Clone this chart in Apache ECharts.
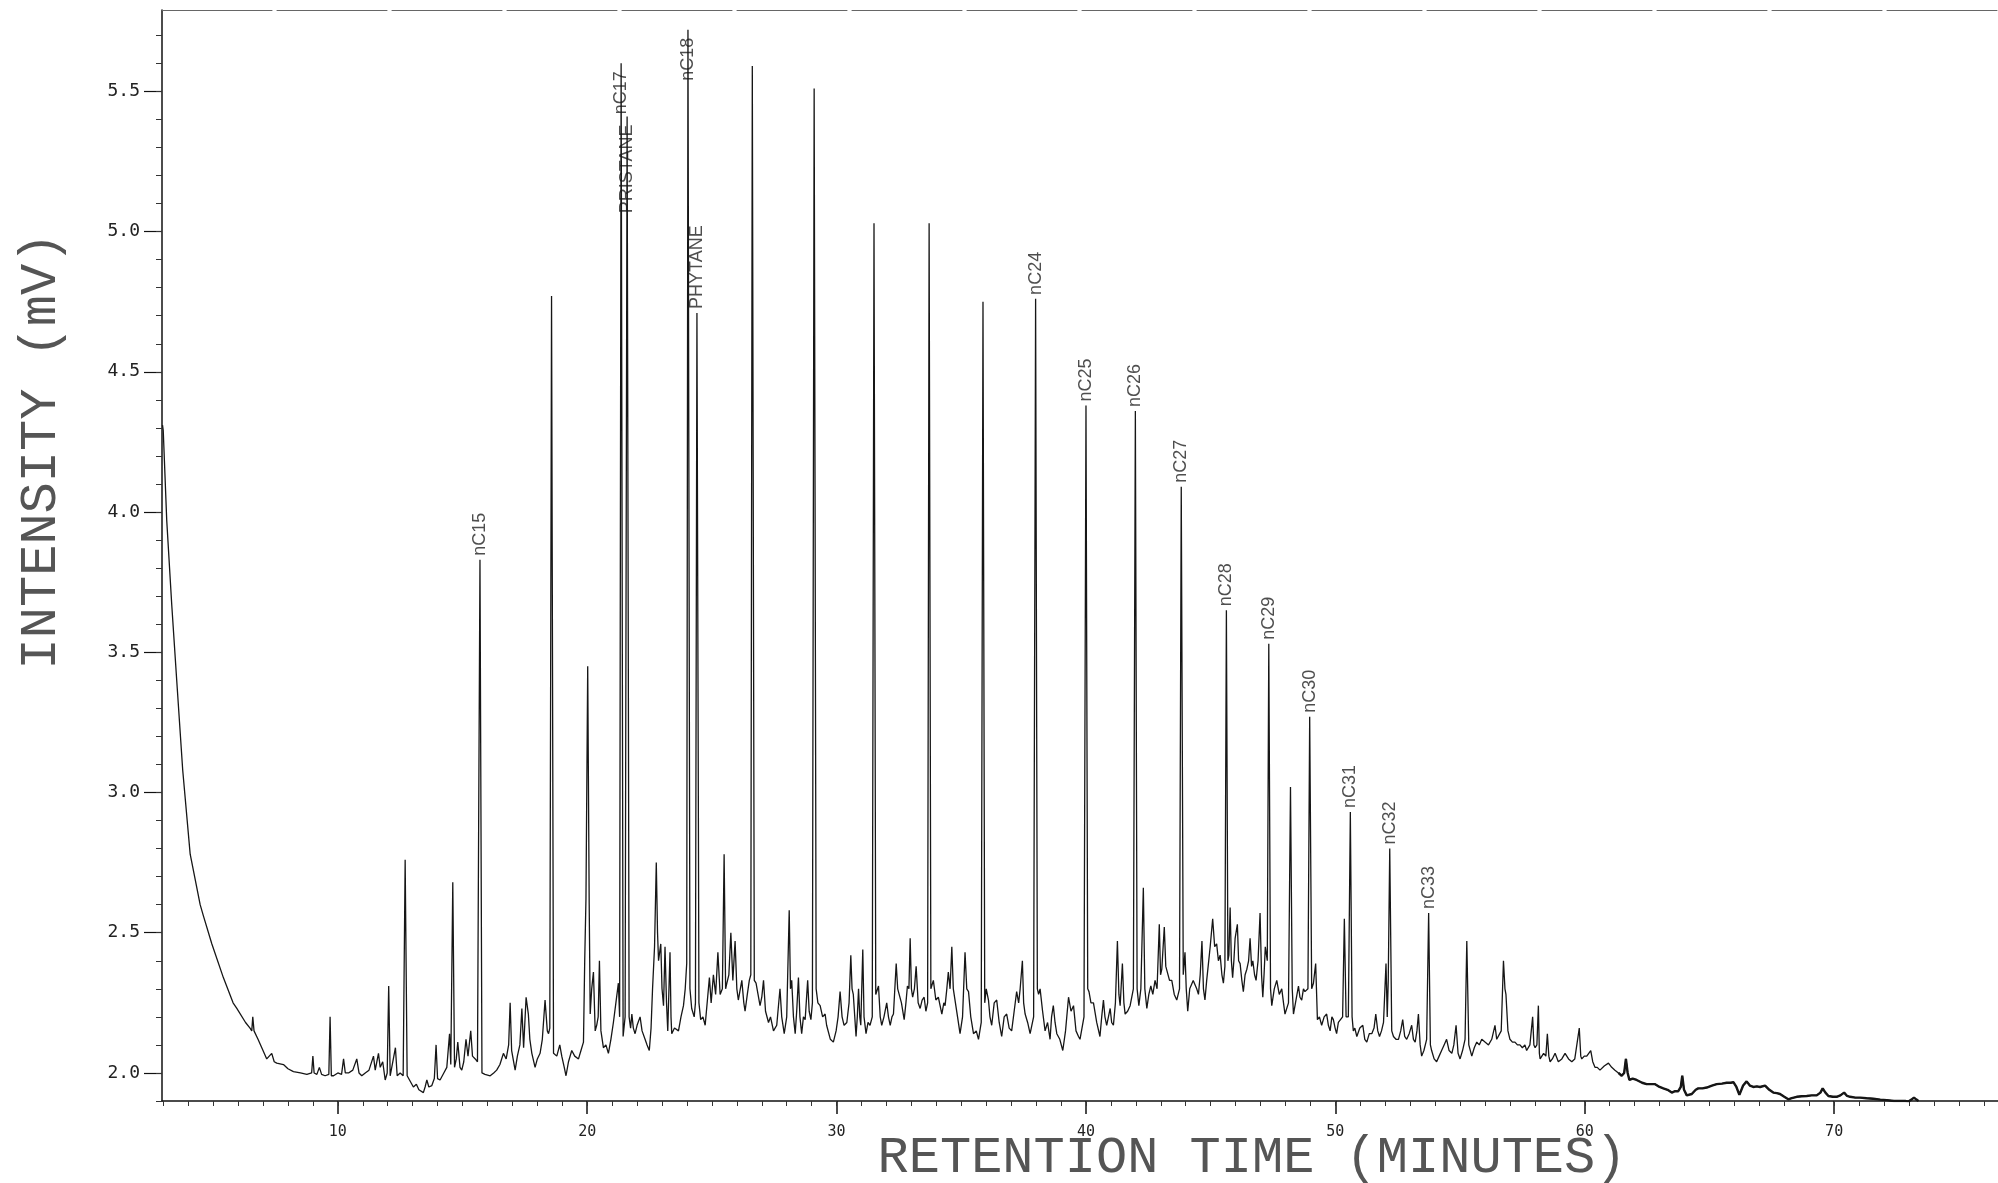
<!DOCTYPE html>
<html>
<head>
<meta charset="utf-8">
<title>Chromatogram</title>
<script src="https://cdn.jsdelivr.net/npm/echarts@6/dist/echarts.min.js"></script>
<style>
  html, body { margin: 0; padding: 0; background: #fff; }
  #chart { width: 1998px; height: 1183px; }
</style>
</head>
<body>
<div id="chart"></div>
<script>
// retention time (min) / intensity (mV)
const trace03to20 = [
  [2.97, 4.31], [3.0, 4.29], [3.14, 3.97], [3.34, 3.67], [3.54, 3.40], [3.78, 3.08], [4.08, 2.78],
  [4.28, 2.69], [4.48, 2.60], [4.61, 2.56], [4.95, 2.46], [5.41, 2.34], [5.8, 2.25], [5.95, 2.23],
  [6.3, 2.18], [6.48, 2.16], [6.55, 2.15], [6.59, 2.2], [6.64, 2.15], [6.8, 2.12], [7.0, 2.08],
  [7.15, 2.05], [7.35, 2.07], [7.45, 2.04], [7.55, 2.035], [7.82, 2.03], [8.0, 2.015], [8.22, 2.005],
  [8.5, 2.0], [8.76, 1.995], [8.95, 2.0], [9.0, 2.06], [9.05, 2.0], [9.16, 1.995], [9.26, 2.02],
  [9.35, 1.995], [9.49, 1.99], [9.64, 1.995], [9.69, 2.2], [9.74, 1.99], [9.83, 1.99], [10.0, 2.0],
  [10.15, 1.995], [10.23, 2.05], [10.3, 2.0], [10.43, 2.0], [10.6, 2.01], [10.76, 2.05], [10.85, 2.0],
  [10.96, 1.99], [11.1, 2.0], [11.25, 2.01], [11.43, 2.06], [11.5, 2.01], [11.63, 2.07], [11.7, 2.02],
  [11.8, 2.04], [11.9, 1.975], [11.98, 2.0], [12.04, 2.31], [12.1, 1.99], [12.16, 1.99], [12.31, 2.09],
  [12.38, 1.99], [12.5, 2.0], [12.62, 1.99], [12.78, 1.99], [12.83, 1.99], [13.03, 1.95], [13.15, 1.96],
  [13.25, 1.94], [13.43, 1.93], [13.5, 1.95], [13.57, 1.975], [13.65, 1.95], [13.77, 1.955], [13.87, 1.98],
  [13.94, 2.1], [14.0, 1.98], [14.1, 1.975], [14.25, 2.0], [14.37, 2.02], [14.48, 2.14], [14.53, 2.03],
  [14.68, 2.02], [14.75, 2.05], [14.81, 2.11], [14.9, 2.02], [14.97, 2.01], [15.05, 2.04], [15.14, 2.12],
  [15.22, 2.06], [15.33, 2.15], [15.4, 2.06], [15.51, 2.05], [15.6, 2.04], [15.78, 2.0], [15.9, 1.995],
  [16.11, 1.99], [16.25, 2.0], [16.37, 2.01], [16.5, 2.03], [16.64, 2.07], [16.75, 2.05], [16.85, 2.1],
  [16.91, 2.25], [16.97, 2.08], [17.11, 2.01], [17.2, 2.06], [17.3, 2.1], [17.38, 2.23], [17.45, 2.09],
  [17.55, 2.27], [17.64, 2.21], [17.7, 2.12], [17.78, 2.07], [17.91, 2.02], [18.0, 2.05], [18.11, 2.07],
  [18.2, 2.12], [18.31, 2.26], [18.4, 2.15], [18.45, 2.14], [18.5, 2.16], [18.65, 2.07], [18.78, 2.06],
  [18.9, 2.1], [18.98, 2.06], [19.08, 2.02], [19.15, 1.99], [19.25, 2.04], [19.38, 2.08], [19.5, 2.06],
  [19.65, 2.05], [19.75, 2.08], [19.85, 2.11], [19.9, 2.4], [19.95, 2.62]
];
const trace20to40 = [
  [20.08, 2.6], [20.12, 2.21], [20.18, 2.3], [20.25, 2.36], [20.32, 2.15], [20.38, 2.17], [20.44, 2.2],
  [20.49, 2.4], [20.55, 2.15], [20.65, 2.09], [20.75, 2.1], [20.85, 2.07], [20.95, 2.12], [21.05, 2.18],
  [21.15, 2.25], [21.25, 2.32], [21.3, 2.2], [21.44, 2.13], [21.52, 2.2], [21.68, 2.2], [21.74, 2.16],
  [21.79, 2.21], [21.85, 2.16], [21.92, 2.14], [22.0, 2.17], [22.12, 2.2], [22.2, 2.15], [22.32, 2.12],
  [22.4, 2.1], [22.49, 2.08], [22.56, 2.16], [22.62, 2.3], [22.7, 2.45], [22.82, 2.5], [22.86, 2.4],
  [22.95, 2.46], [23.0, 2.3], [23.06, 2.24], [23.12, 2.45], [23.18, 2.25], [23.23, 2.15], [23.32, 2.43],
  [23.36, 2.2], [23.39, 2.14], [23.5, 2.16], [23.66, 2.15], [23.76, 2.2], [23.86, 2.24], [23.93, 2.3],
  [23.99, 2.39], [24.12, 2.3], [24.19, 2.23], [24.29, 2.2], [24.34, 2.25], [24.48, 2.25], [24.55, 2.19],
  [24.64, 2.2], [24.73, 2.17], [24.82, 2.26], [24.9, 2.34], [24.97, 2.25], [25.06, 2.35], [25.15, 2.28],
  [25.24, 2.43], [25.33, 2.28], [25.42, 2.3], [25.55, 2.3], [25.6, 2.32], [25.68, 2.35], [25.76, 2.5],
  [25.84, 2.33], [25.93, 2.47], [26.0, 2.3], [26.06, 2.26], [26.2, 2.33], [26.28, 2.25], [26.33, 2.22],
  [26.42, 2.28], [26.5, 2.33], [26.56, 2.35], [26.7, 2.33], [26.77, 2.32], [26.85, 2.28], [26.93, 2.24],
  [27.0, 2.27], [27.07, 2.33], [27.15, 2.22], [27.27, 2.18], [27.35, 2.2], [27.47, 2.15], [27.6, 2.17],
  [27.73, 2.3], [27.8, 2.2], [27.9, 2.14], [28.0, 2.2], [28.1, 2.58], [28.15, 2.3], [28.2, 2.33],
  [28.27, 2.2], [28.34, 2.14], [28.4, 2.22], [28.47, 2.34], [28.53, 2.2], [28.6, 2.14], [28.67, 2.2],
  [28.74, 2.19], [28.84, 2.33], [28.9, 2.22], [28.97, 2.19], [29.03, 2.25], [29.18, 2.3], [29.25, 2.25],
  [29.34, 2.24], [29.44, 2.2], [29.54, 2.21], [29.6, 2.17], [29.67, 2.17], [29.75, 2.12], [29.87, 2.11],
  [29.98, 2.15], [30.06, 2.2], [30.14, 2.29], [30.22, 2.2], [30.3, 2.17], [30.41, 2.18], [30.5, 2.25],
  [30.57, 2.42], [30.62, 2.3], [30.67, 2.28], [30.78, 2.13], [30.83, 2.2], [30.88, 2.3], [30.93, 2.2],
  [30.97, 2.17], [31.05, 2.44], [31.1, 2.2], [31.18, 2.14], [31.26, 2.18], [31.34, 2.17], [31.43, 2.2],
  [31.57, 2.28], [31.68, 2.31], [31.75, 2.2], [31.81, 2.17], [31.9, 2.2], [32.01, 2.25], [32.08, 2.2],
  [32.15, 2.17], [32.22, 2.2], [32.28, 2.21], [32.39, 2.39], [32.45, 2.3], [32.52, 2.3], [32.6, 2.25],
  [32.71, 2.19], [32.78, 2.25], [32.84, 2.31], [32.9, 2.3], [32.95, 2.48], [33.0, 2.3], [33.05, 2.27],
  [33.12, 2.3], [33.19, 2.38], [33.27, 2.25], [33.35, 2.23], [33.43, 2.26], [33.51, 2.27], [33.58, 2.22],
  [33.65, 2.25], [33.78, 2.3], [33.88, 2.33], [33.98, 2.26], [34.08, 2.27], [34.15, 2.24], [34.22, 2.21],
  [34.3, 2.25], [34.35, 2.24], [34.42, 2.3], [34.48, 2.36], [34.55, 2.3], [34.62, 2.45], [34.68, 2.3],
  [34.75, 2.3], [34.85, 2.2], [34.95, 2.14], [35.05, 2.2], [35.15, 2.43], [35.22, 2.3], [35.29, 2.29],
  [35.38, 2.2], [35.49, 2.14], [35.6, 2.15], [35.69, 2.12], [35.8, 2.18], [35.94, 2.25], [36.0, 2.3],
  [36.09, 2.26], [36.15, 2.2], [36.22, 2.17], [36.32, 2.25], [36.42, 2.26], [36.52, 2.18], [36.62, 2.13],
  [36.72, 2.2], [36.82, 2.21], [36.92, 2.16], [37.02, 2.15], [37.12, 2.22], [37.22, 2.29], [37.3, 2.25],
  [37.36, 2.3], [37.45, 2.4], [37.5, 2.25], [37.56, 2.21], [37.66, 2.18], [37.76, 2.14], [37.9, 2.2],
  [38.05, 2.3], [38.1, 2.28], [38.16, 2.3], [38.26, 2.22], [38.36, 2.15], [38.46, 2.18], [38.56, 2.12],
  [38.62, 2.2], [38.69, 2.24], [38.76, 2.18], [38.83, 2.14], [38.95, 2.12], [39.07, 2.08], [39.18, 2.15],
  [39.3, 2.27], [39.4, 2.22], [39.5, 2.24], [39.6, 2.15], [39.7, 2.13], [39.76, 2.12], [39.92, 2.2]
];
const trace40to58 = [
  [40.07, 2.3], [40.12, 2.29], [40.2, 2.25], [40.3, 2.25], [40.43, 2.18], [40.56, 2.13], [40.63, 2.2],
  [40.7, 2.26], [40.76, 2.2], [40.83, 2.17], [40.9, 2.2], [40.97, 2.23], [41.03, 2.18], [41.1, 2.17],
  [41.18, 2.25], [41.26, 2.47], [41.32, 2.28], [41.37, 2.24], [41.46, 2.39], [41.52, 2.25], [41.57, 2.21],
  [41.67, 2.22], [41.77, 2.24], [41.9, 2.3], [42.05, 2.3], [42.12, 2.24], [42.2, 2.3], [42.3, 2.66],
  [42.36, 2.3], [42.44, 2.23], [42.52, 2.28], [42.6, 2.31], [42.68, 2.28], [42.77, 2.33], [42.85, 2.3],
  [42.94, 2.53], [42.99, 2.35], [43.04, 2.37], [43.14, 2.52], [43.2, 2.38], [43.26, 2.38], [43.35, 2.33],
  [43.44, 2.33], [43.54, 2.28], [43.64, 2.26], [43.75, 2.3], [43.9, 2.35], [43.97, 2.43], [44.02, 2.3],
  [44.08, 2.22], [44.16, 2.3], [44.24, 2.3], [44.3, 2.33], [44.37, 2.33], [44.44, 2.3], [44.51, 2.28],
  [44.58, 2.35], [44.65, 2.47], [44.71, 2.3], [44.77, 2.26], [44.84, 2.33], [44.91, 2.39], [44.98, 2.45],
  [45.08, 2.55], [45.16, 2.45], [45.24, 2.46], [45.31, 2.4], [45.38, 2.42], [45.45, 2.35], [45.51, 2.32],
  [45.57, 2.38], [45.69, 2.4], [45.73, 2.42], [45.78, 2.59], [45.83, 2.4], [45.88, 2.34], [45.93, 2.4],
  [45.98, 2.48], [46.07, 2.53], [46.12, 2.4], [46.18, 2.39], [46.25, 2.33], [46.31, 2.29], [46.38, 2.35],
  [46.45, 2.37], [46.52, 2.4], [46.58, 2.48], [46.64, 2.38], [46.69, 2.4], [46.76, 2.35], [46.82, 2.33],
  [46.9, 2.4], [46.98, 2.57], [47.04, 2.35], [47.09, 2.27], [47.14, 2.35], [47.19, 2.45], [47.27, 2.4],
  [47.4, 2.3], [47.45, 2.24], [47.55, 2.3], [47.65, 2.33], [47.75, 2.28], [47.85, 2.3], [47.92, 2.25],
  [47.98, 2.21], [48.12, 2.25], [48.27, 2.3], [48.32, 2.21], [48.42, 2.26], [48.52, 2.31], [48.58, 2.27],
  [48.65, 2.26], [48.72, 2.3], [48.78, 2.29], [48.9, 2.3], [49.05, 2.3], [49.12, 2.32], [49.21, 2.39],
  [49.28, 2.19], [49.36, 2.2], [49.45, 2.17], [49.55, 2.2], [49.65, 2.21], [49.72, 2.17], [49.79, 2.15],
  [49.86, 2.2], [49.92, 2.19], [49.99, 2.16], [50.05, 2.14], [50.12, 2.18], [50.19, 2.18], [50.29, 2.2],
  [50.43, 2.2], [50.52, 2.2], [50.67, 2.2], [50.72, 2.15], [50.78, 2.16], [50.86, 2.13], [50.98, 2.16],
  [51.1, 2.17], [51.18, 2.12], [51.26, 2.11], [51.36, 2.14], [51.46, 2.14], [51.55, 2.16], [51.62, 2.21],
  [51.7, 2.15], [51.77, 2.13], [51.85, 2.15], [51.93, 2.18], [52.03, 2.39], [52.08, 2.2], [52.12, 2.33],
  [52.26, 2.15], [52.33, 2.13], [52.43, 2.12], [52.53, 2.12], [52.62, 2.15], [52.7, 2.19], [52.78, 2.13],
  [52.86, 2.12], [52.96, 2.14], [53.06, 2.17], [53.13, 2.12], [53.2, 2.11], [53.27, 2.15], [53.33, 2.21],
  [53.4, 2.1], [53.46, 2.06], [53.55, 2.08], [53.66, 2.12], [53.81, 2.1], [53.86, 2.08], [53.96, 2.05],
  [54.06, 2.04], [54.16, 2.06], [54.26, 2.08], [54.36, 2.1], [54.46, 2.12], [54.56, 2.08], [54.67, 2.07],
  [54.75, 2.1], [54.84, 2.17], [54.92, 2.07], [55.0, 2.05], [55.1, 2.08], [55.2, 2.12], [55.35, 2.1],
  [55.47, 2.06], [55.57, 2.09], [55.67, 2.11], [55.77, 2.1], [55.87, 2.12], [56.0, 2.11], [56.14, 2.1],
  [56.27, 2.12], [56.4, 2.17], [56.47, 2.12], [56.54, 2.12], [56.65, 2.15], [56.8, 2.3], [56.84, 2.28],
  [56.92, 2.15], [57.0, 2.12], [57.1, 2.11], [57.2, 2.11], [57.3, 2.1], [57.4, 2.1], [57.5, 2.09],
  [57.6, 2.1], [57.67, 2.08], [57.8, 2.1], [57.91, 2.2], [57.96, 2.1]
];
const trace58to74 = [
  [58.01, 2.09], [58.08, 2.1], [58.14, 2.24], [58.18, 2.07], [58.21, 2.05], [58.35, 2.07], [58.44, 2.06],
  [58.5, 2.14], [58.56, 2.06], [58.61, 2.04], [58.7, 2.05], [58.81, 2.07], [58.94, 2.04], [59.08, 2.05],
  [59.21, 2.07], [59.35, 2.05], [59.48, 2.04], [59.6, 2.05], [59.68, 2.05], [59.78, 2.16], [59.84, 2.06],
  [59.88, 2.05], [59.98, 2.06], [60.08, 2.06], [60.16, 2.06], [60.24, 2.08], [60.32, 2.04], [60.41, 2.02],
  [60.5, 2.02], [60.61, 2.01], [60.78, 2.025], [60.95, 2.035], [61.08, 2.02], [61.21, 2.01], [61.35, 2.0],
  [61.48, 1.99], [61.58, 2.0], [61.65, 2.05], [61.72, 2.0], [61.79, 1.975], [61.92, 1.98], [62.08, 1.975],
  [62.3, 1.965], [62.48, 1.96], [62.65, 1.96], [62.82, 1.96], [63.0, 1.95], [63.15, 1.945], [63.32, 1.94],
  [63.49, 1.93], [63.62, 1.935], [63.75, 1.935], [63.85, 1.95], [63.91, 1.99], [63.98, 1.94], [64.09, 1.92],
  [64.29, 1.925], [64.45, 1.94], [64.55, 1.945], [64.72, 1.945], [64.89, 1.948], [65.1, 1.955], [65.29, 1.96],
  [65.5, 1.962], [65.69, 1.965], [65.85, 1.965], [65.96, 1.967], [66.08, 1.95], [66.2, 1.922], [66.35, 1.955],
  [66.49, 1.97], [66.62, 1.955], [66.76, 1.95], [66.9, 1.952], [67.03, 1.95], [67.23, 1.955], [67.4, 1.94],
  [67.56, 1.93], [67.7, 1.928], [67.83, 1.925], [68.0, 1.915], [68.16, 1.906], [68.3, 1.91], [68.5, 1.915],
  [68.7, 1.917], [68.9, 1.918], [69.1, 1.92], [69.3, 1.92], [69.45, 1.93], [69.54, 1.945], [69.65, 1.93],
  [69.77, 1.918], [69.95, 1.915], [70.1, 1.915], [70.25, 1.92], [70.4, 1.93], [70.52, 1.918], [70.64, 1.915],
  [70.85, 1.912], [71.04, 1.912], [71.3, 1.91], [71.57, 1.908], [71.85, 1.905], [72.11, 1.903], [72.4, 1.9],
  [72.64, 1.9], [72.85, 1.9], [72.98, 1.898], [73.1, 1.905], [73.2, 1.912], [73.3, 1.905], [73.38, 1.9]
];

// the tall, resolved peaks: apex time and height, with the names printed on the plot
const peakTimes = [12.70, 14.61, 15.70, 18.57, 20.02, 21.36, 21.60, 22.77, 24.04, 24.40, 25.49, 26.62, 29.10,
  31.50, 33.71, 35.87, 37.98, 40.00, 41.98, 43.82, 45.63, 47.33, 48.20, 48.97, 50.36, 50.60, 52.18, 53.74,
  55.27, 56.74];
const peakHeights = [2.76, 2.68, 3.83, 4.77, 3.45, 5.60, 5.41, 2.75, 5.72, 4.71, 2.78, 5.59, 5.51,
  5.03, 5.03, 4.75, 4.76, 4.38, 4.36, 4.09, 3.65, 3.53, 3.02, 3.27, 2.55, 2.93, 2.80, 2.57,
  2.47, 2.40];
const peakNames = ['', '', 'nC15', '', '', 'nC17', 'PRISTANE', '', 'nC18', 'PHYTANE', '', '', '',
  '', '', '', 'nC24', 'nC25', 'nC26', 'nC27', 'nC28', 'nC29', '', 'nC30', '', 'nC31', 'nC32', 'nC33',
  '', ''];

const xTicks = [10, 20, 30, 40, 50, 60, 70];
const yTicks = [2.0, 2.5, 3.0, 3.5, 4.0, 4.5, 5.0, 5.5];

const X_MIN = 2.95, X_MAX = 76.57, Y_MIN = 1.9, Y_MAX = 5.79;

// merge baseline trace and peak apexes in time order
const peakPoints = peakTimes.map((t, i) => [t, peakHeights[i]]);
const signal = [].concat(trace03to20, trace20to40, trace40to58, trace58to74, peakPoints)
  .sort((a, b) => a[0] - b[0]);
// the late, flat part of the trace is printed heavier on the original
const tail = trace58to74.filter(p => p[0] >= 61.3);

// labels that the plotter wrote down over the line (peak runs past the label)
const overLine = ['nC17', 'PRISTANE', 'nC18'];
const labelData = [];
peakNames.forEach((name, i) => {
  if (!name) return;
  const item = { value: [peakTimes[i], peakHeights[i]], name: name };
  if (overLine.indexOf(name) >= 0) {
    item.label = { align: 'right', distance: -8 };
  }
  labelData.push(item);
});

const minorX = [];
for (let m = 3; m <= 76; m++) minorX.push(m);
const minorY = [];
for (let k = 19; k <= 57; k++) minorY.push(k / 10);

const chart = echarts.init(document.getElementById('chart'), null, { renderer: 'canvas' });

const option = {
  backgroundColor: '#ffffff',
  animation: false,
  grid: {
    left: 162,
    right: 0,
    top: 10,
    bottom: 82,
    containLabel: false,
    outerBoundsMode: 'none'
  },
  xAxis: [
    {
      type: 'value',
      min: X_MIN,
      max: X_MAX,
      position: 'bottom',
      splitLine: { show: false },
      axisLine: { show: true, onZero: false, lineStyle: { color: '#111', width: 1.5 } },
      axisTick: { show: true, customValues: xTicks, length: 13, lineStyle: { color: '#111', width: 1.5 } },
      axisLabel: {
        customValues: xTicks,
        margin: 24,
        color: '#222',
        fontSize: 15,
        fontFamily: 'DejaVu Sans Mono'
      }
    },
    {
      type: 'value',
      min: X_MIN,
      max: X_MAX,
      position: 'bottom',
      splitLine: { show: false },
      axisLine: { show: false, onZero: false },
      axisTick: { show: true, customValues: minorX, length: 5, lineStyle: { color: '#333', width: 1 } },
      axisLabel: { show: false }
    },
    {
      type: 'value',
      min: X_MIN,
      max: X_MAX,
      position: 'top',
      splitLine: { show: false },
      axisLine: { show: true, onZero: false, lineStyle: { color: '#666', width: 1, type: [110, 5] } },
      axisTick: { show: false },
      axisLabel: { show: false }
    }
  ],
  yAxis: [
    {
      type: 'value',
      min: Y_MIN,
      max: Y_MAX,
      position: 'left',
      splitLine: { show: false },
      axisLine: { show: true, onZero: false, lineStyle: { color: '#111', width: 1.5 } },
      axisTick: { show: true, customValues: yTicks, length: 18, lineStyle: { color: '#111', width: 1.2 } },
      axisLabel: {
        customValues: yTicks,
        margin: 22,
        color: '#222',
        fontSize: 18,
        fontFamily: 'DejaVu Sans Mono',
        formatter: v => v.toFixed(1)
      }
    },
    {
      type: 'value',
      min: Y_MIN,
      max: Y_MAX,
      position: 'left',
      splitLine: { show: false },
      axisLine: { show: false, onZero: false },
      axisTick: { show: true, customValues: minorY, length: 6, lineStyle: { color: '#333', width: 1 } },
      axisLabel: { show: false }
    }
  ],
  graphic: [
    {
      type: 'text',
      x: 41,
      y: 451,
      rotation: Math.PI / 2,
      style: {
        text: 'INTENSITY (mV)',
        font: '52px "Liberation Mono"',
        fill: '#555',
        align: 'center',
        verticalAlign: 'middle'
      }
    },
    {
      type: 'text',
      x: 1252,
      y: 1158,
      style: {
        text: 'RETENTION TIME (MINUTES)',
        font: '52px "Liberation Mono"',
        fill: '#555',
        align: 'center',
        verticalAlign: 'middle'
      }
    }
  ],
  series: [
    {
      name: 'signal',
      type: 'line',
      data: signal,
      showSymbol: false,
      symbol: 'none',
      clip: true,
      lineStyle: { color: '#161616', width: 1.3 },
      emphasis: { disabled: true }
    },
    {
      name: 'tail',
      type: 'line',
      data: tail,
      showSymbol: false,
      symbol: 'none',
      clip: true,
      lineStyle: { color: '#161616', width: 2.4 },
      emphasis: { disabled: true }
    },
    {
      name: 'peak names',
      type: 'scatter',
      data: labelData,
      symbolSize: 0,
      silent: true,
      label: {
        show: true,
        position: 'top',
        rotate: 90,
        align: 'left',
        verticalAlign: 'middle',
        distance: 4,
        formatter: p => p.name,
        color: '#222',
        fontSize: 18,
        fontFamily: 'Liberation Sans'
      }
    }
  ]
};

chart.setOption(option);
</script>
</body>
</html>
